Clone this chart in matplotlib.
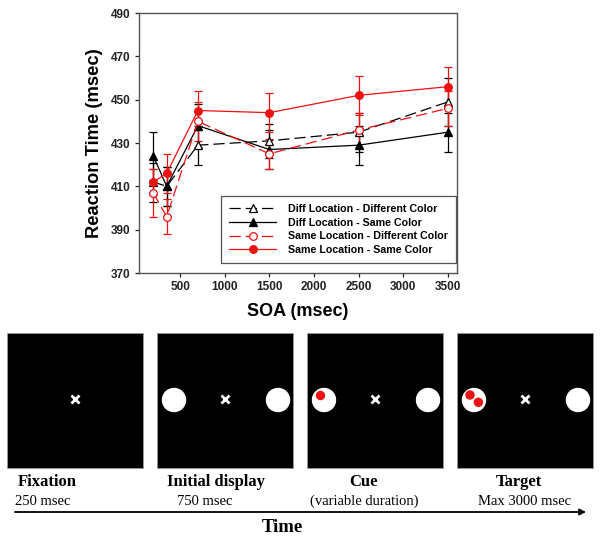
import matplotlib
matplotlib.use("Agg")
import matplotlib.pyplot as plt
from matplotlib.patches import Rectangle, Circle

plt.rcParams['font.family'] = ['Liberation Sans', 'DejaVu Sans']

# reaction time data (msec)
soa = [200, 350, 700, 1500, 2500, 3500]
dd_rt = [412, 410, 429, 431, 435, 449]   # diff location - different color
dd_se = [9, 9, 9, 8, 9, 11]
ds_rt = [424, 410, 438, 427, 429, 435]   # diff location - same color
ds_se = [11, 9, 10, 9, 9, 9]
sd_rt = [407, 396, 440, 425, 436, 446]   # same location - different color
sd_se = [11, 8, 9, 7, 8, 8]
ss_rt = [412, 416, 445, 444, 452, 456]   # same location - same color
ss_se = [6, 9, 9, 9, 9, 9]

labels = ["Diff Location - Different Color", "Diff Location - Same Color",
          "Same Location - Different Color", "Same Location - Same Color"]

# trial sequence panels
panel_names = ["Fixation", "Initial display", "Cue", "Target"]
panel_times = ["250 msec", "750 msec", "(variable duration)", "Max 3000 msec"]
placeholders = [False, True, True, True]
cue_dots = [0, 0, 1, 2]

fig = plt.figure(figsize=(6.0, 5.42), dpi=100)

# ---- reaction time chart ----
ax = fig.add_axes([139 / 600, 1 - 273 / 542, 318 / 600, 260 / 542])

series = [
    (dd_rt, dd_se, 'black', '^', 'white', (9, 4)),
    (ds_rt, ds_se, 'black', '^', 'black', None),
    (sd_rt, sd_se, '#ee1111', 'o', 'white', (9, 4)),
    (ss_rt, ss_se, '#ee1111', 'o', '#ee1111', None),
]
for (rt, se, col, mk, face, dash), lab in zip(series, labels):
    ax.errorbar(soa, rt, yerr=se, fmt='none', ecolor=col, elinewidth=0.9,
                capsize=3, capthick=0.9, zorder=2)
    ln, = ax.plot(soa, rt, color=col, lw=0.9, marker=mk, markersize=5.5,
                  markerfacecolor=face, markeredgecolor=col, markeredgewidth=0.9,
                  label=lab, zorder=3)
    if dash is not None:
        ln.set_dashes(dash)

ax.set_xlim(40, 3600)
ax.set_ylim(370, 490)
ax.set_xticks([500, 1000, 1500, 2000, 2500, 3000, 3500])
ax.set_yticks([370, 390, 410, 430, 450, 470, 490])
ax.tick_params(direction='out', length=3, width=0.9, pad=3, labelsize=8.5,
               colors='#222222')
for t in ax.get_xticklabels() + ax.get_yticklabels():
    t.set_fontweight('bold')
for s in ax.spines.values():
    s.set_color('#555555')
    s.set_linewidth(1.0)

ax.set_ylabel("Reaction Time (msec)", fontsize=13.2, fontweight='bold')
ax.yaxis.set_label_coords(-0.113, 0.5)
ax.set_xlabel("SOA (msec)", fontsize=13, fontweight='bold')
ax.xaxis.set_label_coords(0.5, -0.115)

leg = ax.legend(loc='lower right', bbox_to_anchor=(1.0, 0.035),
                prop={'weight': 'bold', 'size': 7.7}, handlelength=4.4,
                handletextpad=1.1, labelspacing=0.33, borderpad=0.75,
                borderaxespad=0.1, fancybox=False, framealpha=1)
leg.get_frame().set_edgecolor('#555555')
leg.get_frame().set_linewidth(0.9)

# ---- trial sequence diagram (pixel coordinates) ----
dax = fig.add_axes([0, 0, 1, 1], zorder=-1)
dax.set_xlim(0, 600)
dax.set_ylim(542, 0)
dax.axis('off')

box_w, box_h, box_top, step = 136, 135, 333, 150
name_x = [47, 216, 363, 519]
time_x = [43, 205, 364, 524]
for i, name in enumerate(panel_names):
    x0 = 7 + i * step
    dax.add_patch(Rectangle((x0, box_top), box_w, box_h, facecolor='black',
                            edgecolor='#999999', lw=0.6))
    cx, cy = x0 + box_w / 2, 399
    dax.plot(cx, cy, marker='x', color='white', markersize=6, mew=2)
    if placeholders[i]:
        lx, rx = x0 + 17, x0 + 121
        dax.add_patch(Circle((lx, 400), 11.5, color='white'))
        dax.add_patch(Circle((rx, 400), 11.5, color='white'))
        offs = [(-3.5, -4.5), (4.3, 2.3)][:cue_dots[i]]
        if cue_dots[i] == 2:
            offs = [(-4, -5), (4.4, 2.3)]
        for dx, dy in offs:
            dax.add_patch(Circle((lx + dx, 400 + dy), 4, color='#ee1111'))
    dax.text(name_x[i], 482, name, ha='center', va='center', fontsize=12,
             fontweight='bold', family='Liberation Serif')
    dax.text(time_x[i], 501.5, panel_times[i], ha='center', va='center',
             fontsize=10.5, family='Liberation Serif')

dax.annotate('', xy=(586, 512), xytext=(15, 512),
             arrowprops=dict(arrowstyle='-|>', lw=1.3, color='black',
                             mutation_scale=9, shrinkA=0, shrinkB=0))
dax.text(282, 528, "Time", ha='center', va='center', fontsize=13.5,
         fontweight='bold', family='Liberation Serif')

fig.savefig('out.png', dpi=100)
